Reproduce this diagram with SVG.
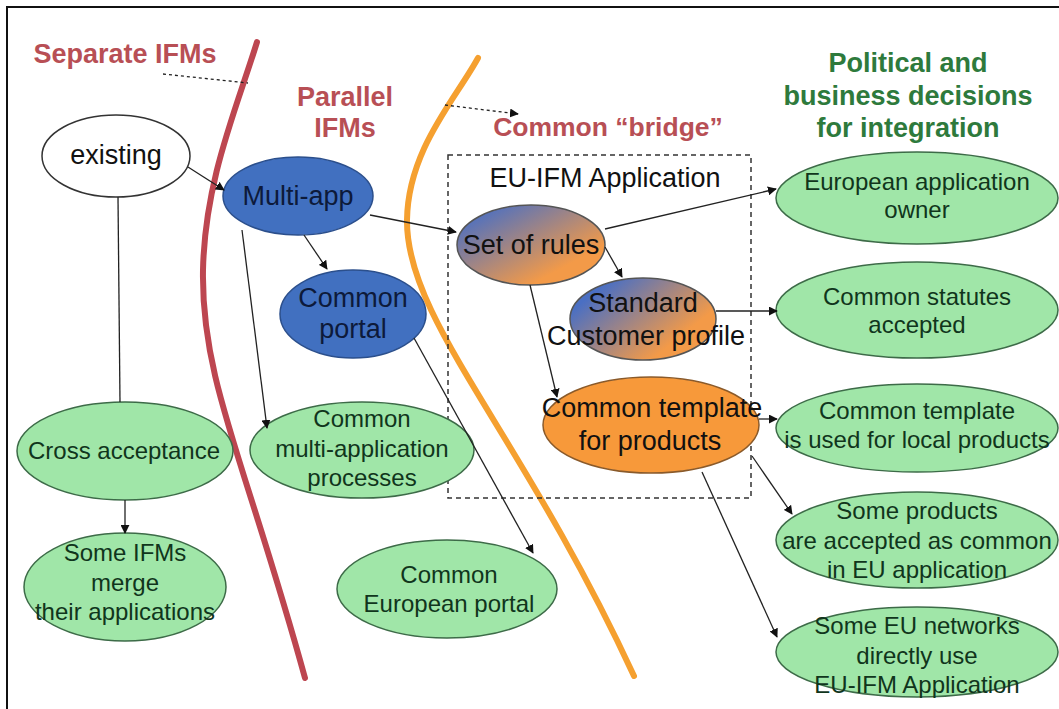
<svg xmlns="http://www.w3.org/2000/svg" width="1059" height="709" viewBox="0 0 1059 709">
<defs>
<style>
.t{font-family:"Liberation Sans",Arial,sans-serif;font-size:24px;text-anchor:middle}
.l{font-size:27px}
.h{font-family:"Liberation Sans",Arial,sans-serif;font-size:27px;font-weight:bold;text-anchor:middle}
.red{fill:#b84f55}
.grn{fill:#2e7a3c}
.g ellipse{fill:#a0e6a8;stroke:#3d6b48;stroke-width:1.5}
.g text{fill:#10351c}
.b ellipse{fill:#4170c0;stroke:#2b4f8c;stroke-width:1.5}
.b text{fill:#0d1a3a}
.c line,.c path{stroke:#222;stroke-width:1.3;fill:none}
.arr{marker-end:url(#ah)}
</style>
<marker id="ah" viewBox="0 0 10 10" refX="9" refY="5" markerWidth="9" markerHeight="9" markerUnits="userSpaceOnUse" orient="auto">
<path d="M0,0 L10,5 L0,10 z" fill="#111"/>
</marker>
<linearGradient id="gr1" x1="0" y1="0" x2="1" y2="1">
<stop offset="0.1" stop-color="#4a6fc3"/>
<stop offset="0.75" stop-color="#f39a48"/>
</linearGradient>
<linearGradient id="gr2" x1="0" y1="0.2" x2="1" y2="0.9">
<stop offset="0.1" stop-color="#4a6fc3"/>
<stop offset="0.75" stop-color="#f39a48"/>
</linearGradient>
</defs>
<rect x="0" y="0" width="1059" height="709" fill="#fff"/>
<rect x="7" y="7" width="1100" height="750" fill="none" stroke="#111" stroke-width="2"/>

<!-- boundary curves -->
<path d="M257,42 C236,110 205,180 203,270 C201,380 245,460 305,678" fill="none" stroke="#bd4650" stroke-width="6" stroke-linecap="round"/>
<path d="M478,58 C455,100 408,150 407,220 C406,320 520,430 634,676" fill="none" stroke="#f5a030" stroke-width="6" stroke-linecap="round"/>

<!-- headers -->
<text class="h red" x="125" y="63">Separate IFMs</text>
<text class="h red" x="345" y="106">Parallel</text>
<text class="h red" x="345" y="137">IFMs</text>
<text class="h red" x="608" y="136" style="font-size:26.5px">Common “bridge”</text>
<text class="h grn" x="908" y="72">Political and</text>
<text class="h grn" x="908" y="105">business decisions</text>
<text class="h grn" x="908" y="137">for integration</text>

<!-- EU-IFM box -->
<g id="eu-ifm-box">
<rect x="448" y="155" width="303" height="343" fill="none" stroke="#333" stroke-width="1.5" stroke-dasharray="5,4"/>
<text class="t l" x="605" y="187" fill="#111">EU-IFM Application</text>
</g>

<!-- nodes -->
<g id="existing">
<ellipse cx="116" cy="156" rx="74" ry="41" fill="#fff" stroke="#333" stroke-width="1.5"/>
<text class="t l" x="116" y="164" fill="#111">existing</text>
</g>
<g id="multi-app" class="b">
<ellipse cx="298" cy="196" rx="75" ry="39"/>
<text class="t l" x="298" y="205">Multi-app</text>
</g>
<g id="common-portal" class="b">
<ellipse cx="353" cy="314" rx="73" ry="44"/>
<text class="t l" x="353" y="307">Common</text>
<text class="t l" x="353" y="338">portal</text>
</g>
<g id="set-of-rules">
<ellipse cx="531" cy="245" rx="74" ry="40" fill="url(#gr1)" stroke="#555" stroke-width="1.5"/>
<text class="t l" x="531" y="254" fill="#111">Set of rules</text>
</g>
<g id="standard-profile">
<ellipse cx="643" cy="319" rx="73" ry="41" fill="url(#gr2)" stroke="#555" stroke-width="1.5"/>
<text class="t l" x="643" y="312" fill="#111">Standard</text>
<text class="t l" x="646" y="345" fill="#111">Customer profile</text>
</g>
<g id="common-template">
<ellipse cx="651" cy="425" rx="108" ry="48" fill="#f7993a" stroke="#8a5a2a" stroke-width="1.5"/>
<text class="t l" x="652" y="417" fill="#111">Common template</text>
<text class="t l" x="650" y="450" fill="#111">for products</text>
</g>
<g id="cross-acceptance" class="g">
<ellipse cx="125" cy="451" rx="108" ry="49"/>
<text class="t" x="124" y="459">Cross acceptance</text>
</g>
<g id="some-ifms-merge" class="g">
<ellipse cx="125" cy="587" rx="101" ry="54"/>
<text class="t" x="125" y="561">Some IFMs</text>
<text class="t" x="125" y="591">merge</text>
<text class="t" x="125" y="620">their applications</text>
</g>
<g id="common-multi-app" class="g">
<ellipse cx="362" cy="450" rx="112" ry="48"/>
<text class="t" x="362" y="427">Common</text>
<text class="t" x="362" y="457">multi-application</text>
<text class="t" x="362" y="486">processes</text>
</g>
<g id="common-european-portal" class="g">
<ellipse cx="447" cy="589" rx="110" ry="49"/>
<text class="t" x="449" y="583">Common</text>
<text class="t" x="449" y="612">European portal</text>
</g>
<g id="european-owner" class="g">
<ellipse cx="917" cy="198" rx="141" ry="46"/>
<text class="t" x="917" y="190">European application</text>
<text class="t" x="917" y="218">owner</text>
</g>
<g id="common-statutes" class="g">
<ellipse cx="917" cy="310" rx="141" ry="48"/>
<text class="t" x="917" y="305">Common statutes</text>
<text class="t" x="917" y="333">accepted</text>
</g>
<g id="template-local" class="g">
<ellipse cx="917" cy="428" rx="141" ry="44"/>
<text class="t" x="917" y="419">Common template</text>
<text class="t" x="917" y="448">is used for local products</text>
</g>
<g id="some-products" class="g">
<ellipse cx="917" cy="540" rx="141" ry="48"/>
<text class="t" x="917" y="519">Some products</text>
<text class="t" x="917" y="549">are accepted as common</text>
<text class="t" x="917" y="578">in EU application</text>
</g>
<g id="eu-networks" class="g">
<ellipse cx="917" cy="652" rx="141" ry="45"/>
<text class="t" x="917" y="634">Some EU networks</text>
<text class="t" x="917" y="664">directly use</text>
<text class="t" x="917" y="693">EU-IFM Application</text>
</g>

<!-- connectors -->
<g id="connectors" class="c">
<path d="M163,74 L248,83" stroke-dasharray="3,3"/>
<path d="M445,105 L518,114" stroke-dasharray="3,3" class="arr"/>
<line x1="188" y1="167" x2="224" y2="190" class="arr"/>
<line x1="118" y1="197" x2="120" y2="402"/>
<line x1="125" y1="500" x2="125" y2="533" class="arr"/>
<line x1="370" y1="215" x2="456" y2="232" class="arr"/>
<line x1="304" y1="235" x2="327" y2="269" class="arr"/>
<line x1="242" y1="230" x2="267" y2="428" class="arr"/>
<line x1="414" y1="338" x2="533" y2="553" class="arr"/>
<line x1="605" y1="229" x2="776" y2="189" class="arr"/>
<line x1="605" y1="247" x2="622" y2="277" class="arr"/>
<line x1="530" y1="285" x2="557" y2="397" class="arr"/>
<line x1="716" y1="311" x2="777" y2="311" class="arr"/>
<line x1="759" y1="419" x2="777" y2="419" class="arr"/>
<line x1="752" y1="456" x2="792" y2="514" class="arr"/>
<line x1="702" y1="472" x2="777" y2="637" class="arr"/>
</g>
</svg>
